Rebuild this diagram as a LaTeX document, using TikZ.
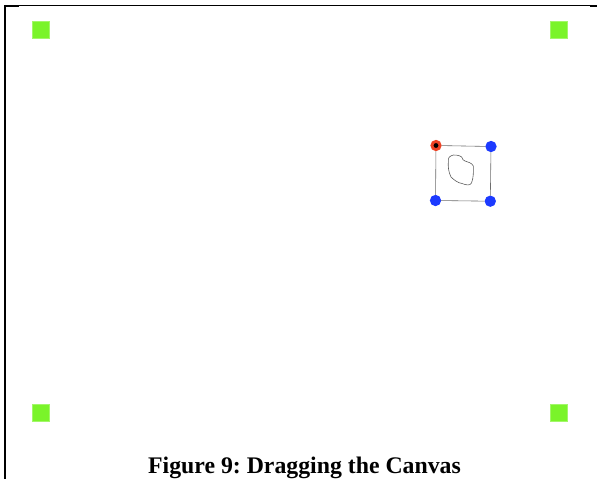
\documentclass[tikz,border=0pt]{standalone}
\usepackage{fontspec}
\setmainfont{Liberation Serif}
\usepackage{xcolor}
\definecolor{handlegreen}{RGB}{122,244,42}
\definecolor{cornerblue}{RGB}{28,58,255}
\definecolor{cornerred}{RGB}{238,66,36}

\begin{document}
\frenchspacing
\begin{tikzpicture}[x=0.03cm, y=-0.03cm,
		handle/.style={draw=handlegreen!70!white, fill=handlegreen, line width=0.4pt,
			minimum size=0.5cm, inner sep=0pt, outer sep=0pt},
		corner/.style={circle, fill=cornerblue, minimum size=0.34cm,
			inner sep=0pt, outer sep=0pt},
		pinned/.style={corner, fill=cornerred}]
		% One unit is one pixel of the screenshot, y running downwards.
		\useasboundingbox (0,0) rectangle (597,479);

		% Frame of the screen: a heavy left edge, a hairline on top.
		\draw[line width=0.7pt] (5,5.5) -- (591,5.5);
		\draw[line width=1.5pt] (4,5.8) -- (19,5.8);
		\draw[line width=1.5pt] (590,5.8) -- (597,5.8);
		\draw[line width=2pt] (5.2,5) -- (5.2,479);

		% The four handles at the corners of the canvas.
		\node[handle] (nw) at (40.5,30) {};
		\node[handle] (ne) at (558.5,30) {};
		\node[handle] (sw) at (40.5,412.5) {};
		\node[handle] (se) at (558.5,412.5) {};

		% The quad with the sketch inside; the red corner is held.
		\node[pinned] (qa) at (436,145.5) {};
		\node[corner] (qb) at (491,146.5) {};
		\node[corner] (qc) at (490.3,201.2) {};
		\node[corner] (qd) at (435.5,200.5) {};
		\draw[gray!85!black, line width=0.5pt]
			(qa) -- (qb) -- (qc) -- (qd) -- (qa);
		\fill[black] (qa.center) circle (2.4);

		\draw[gray!70!black, line width=0.5pt, line join=round]
			(462.5,158.5) .. controls (462,156) and (458,155) .. (453.5,155)
			.. controls (449,156) and (448,158) .. (448.3,162)
			.. controls (448,167) and (448.5,172) .. (451,177)
			.. controls (454,180) and (458,183) .. (462,183.5)
			.. controls (466,185) and (470,186) .. (471.5,183)
			.. controls (473.5,178) and (473.5,172) .. (473.3,166)
			.. controls (472,163) and (468,162) .. (465,161)
			.. controls (463,160) and (462.5,159.5) .. (462.5,158.5);

		% Caption, cut off at the bottom like the screenshot.
		\node[anchor=base, inner sep=0pt] (cap) at (304.5,473)
			{\fontsize{20.3}{24}\selectfont\bfseries Figure 9: Dragging the Canvas};
	\end{tikzpicture}
\end{document}
